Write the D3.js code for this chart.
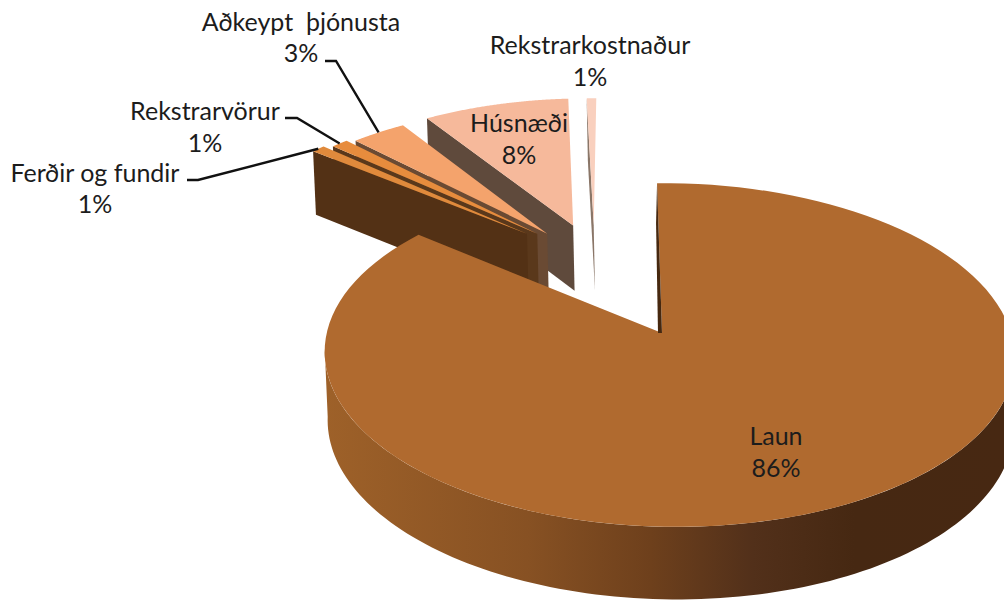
<!DOCTYPE html>
<html><head><meta charset="utf-8">
<script src="https://cdn.jsdelivr.net/npm/d3@7"></script>
<style>html,body{margin:0;padding:0;background:#fff}svg{display:block}text{font-family:Lato,"Open Sans",sans-serif;font-size:25px;fill:#1c1c1c;text-anchor:middle;dominant-baseline:central}</style>
</head><body><svg id="c" width="1004" height="601"></svg>
<script>
// Data (clockwise from 12 o'clock)
const categories = ["Laun","Ferðir og fundir","Rekstrarvörur","Aðkeypt  þjónusta","Húsnæði","Rekstrarkostnaður"];
const values = [86.0,0.8,1.0,3.2,8.45,0.55];
const topColors = ["#B06A2F","#E08A3C","#E78C3D","#F4A36C","#F6B99B","#F9D0BE"];
const wallColors = ["url(#launWall)","#533115","#5a381b","#6a4a33","#5f4a3c","#8a7668"];

// Layout of the tilted disc and of the pulled-out slices
const G = {cx:662,cy:333,rx:342,ry:169,k:.128,m:.02,shear:.033,
           bcx:663,bcy:401,brx:340,bry:173};
const explode = [[0,0],[-.42,.64],[-.387,.64],[-.355,.64],[-.273,.697],[-.207,.697]];
const labelPos = [[776,435,467],[95,172,203],[205,110,142],[301,21,52],[519,122,154],[590,44,76]];
const leaderElbow = [null,[187,198,180],[285,297,118],[325,336,61],null,null];

function project(u,v,bottom){
  const s = 1/(1+G.k*v-G.m*u);
  const rx = bottom?G.brx:G.rx, ry = bottom?G.bry:G.ry, cx = bottom?G.bcx:G.cx, cy = bottom?G.bcy:G.cy;
  return [cx+rx*u*s-G.shear*ry*v*s, cy-ry*v*s];
}
const svg = d3.select("#c");
const grad = svg.append("defs").append("linearGradient").attr("id","launWall")
  .attr("gradientUnits","userSpaceOnUse").attr("x1",324).attr("x2",1004).attr("y1",0).attr("y2",0);
[[0,"#9E6129"],[.3,"#875123"],[.48,"#6E401C"],[.63,"#52301A"],[.78,"#462812"],[1,"#472812"]]
  .forEach(d=>grad.append("stop").attr("offset",d[0]).attr("stop-color",d[1]));

const arcs = d3.pie().sort(null).value(d=>d)(values);
const line = d3.line().curve(d3.curveLinear);
const pt = (i,a,r,b)=>{const e=explode[i];return project(e[0]+r*Math.sin(a),e[1]+r*Math.cos(a),b);};
const rim = (i,a0,a1,b)=>d3.range(0,121).map(t=>pt(i,a0+(a1-a0)*t/120,1,b));
const order = [5,4,3,2,1,0];
const g = svg.append("g");
order.forEach(i=>{
  const a = arcs[i];
  if(i===0){
    const w0=1.65, w1=4.62; // visible front part of the curved wall
    g.append("path").attr("d",line(rim(0,w0,w1,false).concat(rim(0,w0,w1,true).reverse()))+"Z").attr("fill",wallColors[0]);
  } else {
    g.append("path").attr("d",line([pt(i,0,0,false),pt(i,a.startAngle,1,false),pt(i,a.startAngle,1,true),pt(i,0,0,true)])+"Z").attr("fill",wallColors[i]);
  }
  g.append("path").attr("d",line([pt(i,0,0,false)].concat(rim(i,a.startAngle,a.endAngle,false)))+"Z").attr("fill",topColors[i]);
  if(i===0){
    const p0=pt(0,0,0,false), p1=pt(0,0,1,false);
    g.append("path").attr("d",line([p0,p1,[p1[0]-1,p1[1]+40],[p0[0]-4,p0[1]]])+"Z").attr("fill","#46280f");
  }
});
// leaders
leaderElbow.forEach((e,i)=>{
  if(!e) return;
  const a=arcs[i], end=pt(i,(a.startAngle+a.endAngle)/2,1,false);
  svg.append("path").attr("d",line([[e[0],e[2]],[e[1],e[2]],end])).attr("fill","none").attr("stroke","#111").attr("stroke-width",2.4);
});
// labels
categories.forEach((c,i)=>{
  const p=labelPos[i];
  svg.append("text").attr("x",p[0]).attr("y",p[1]).attr("xml:space","preserve").style("white-space","pre").text(c);
  svg.append("text").attr("x",p[0]).attr("y",p[2]).text(d3.format(".0f")(values[i])+"%");
});
</script></body></html>
